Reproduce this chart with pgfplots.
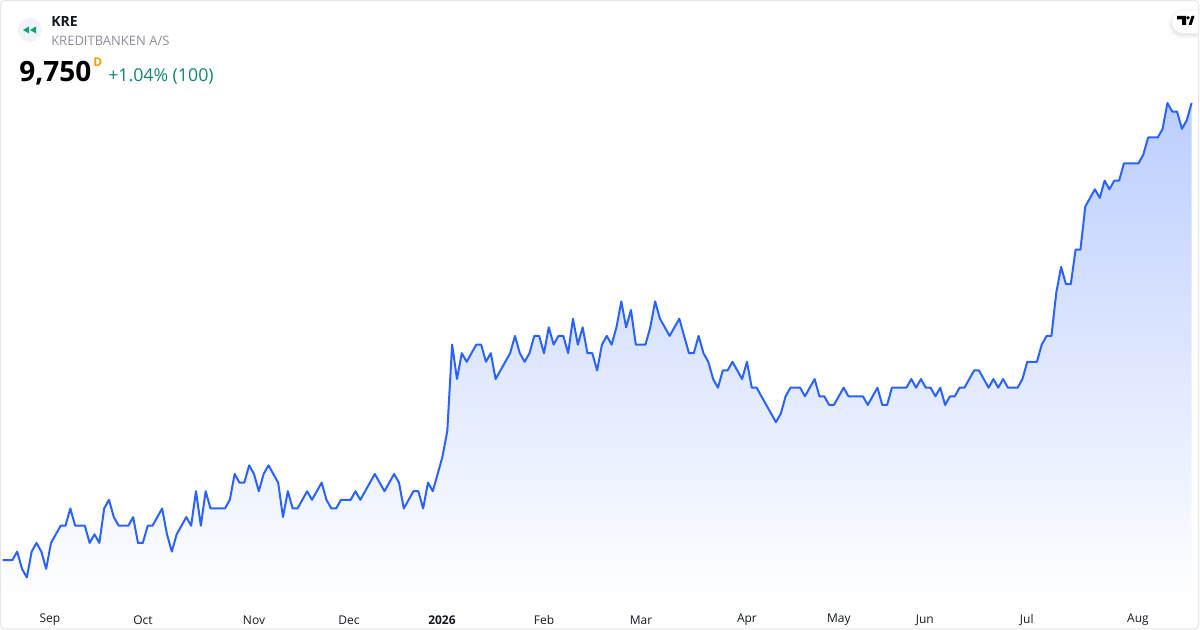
\documentclass[border=0pt]{standalone}
\usepackage{pgfplots}
\usepackage{pgfplotstable}
\usepackage{fontspec}
\pgfplotsset{compat=1.18}
\setmainfont{Open Sans}

\definecolor{linecol}{HTML}{2962FF}
\definecolor{filltop}{RGB}{188,206,255}
\definecolor{cardedge}{HTML}{E6E6E8}
\definecolor{iconbg}{HTML}{F0F3FA}
\definecolor{icongreen}{HTML}{00A86B}
\definecolor{chgcol}{HTML}{108571}
\definecolor{subcol}{HTML}{8A8E99}
\definecolor{tickcol}{HTML}{131722}
\definecolor{dcol}{HTML}{F59F00}

% daily close, one value per trading day
\pgfplotstableread[row sep=\\]{
close\\
7100\\7100\\7100\\7150\\7050\\7000\\7150\\7200\\7150\\7050\\
7200\\7250\\7300\\7300\\7400\\7300\\7300\\7300\\7200\\7250\\
7200\\7400\\7450\\7350\\7300\\7300\\7300\\7350\\7200\\7200\\
7300\\7300\\7350\\7400\\7250\\7150\\7250\\7300\\7350\\7300\\
7500\\7300\\7500\\7400\\7400\\7400\\7400\\7450\\7600\\7550\\
7550\\7650\\7600\\7500\\7600\\7650\\7600\\7550\\7350\\7500\\
7400\\7400\\
7450\\7500\\7450\\7500\\7550\\7450\\7400\\7400\\7450\\7450\\
7450\\7500\\7450\\7500\\7550\\7600\\7550\\7500\\7550\\7600\\
7550\\7400\\7450\\7500\\7500\\7400\\7550\\7500\\7600\\7700\\
7850\\8350\\8150\\8300\\8250\\8300\\8350\\8350\\8250\\8300\\
8150\\8200\\8250\\8300\\8400\\8300\\8250\\8300\\8400\\8400\\
8300\\8450\\8350\\8400\\8400\\8300\\
8500\\8350\\8450\\8300\\8300\\8200\\8350\\8400\\8350\\8450\\
8600\\8450\\8550\\8350\\8350\\8350\\8450\\8600\\8500\\8450\\
8400\\8450\\8500\\8400\\8300\\8300\\8400\\8300\\8250\\8150\\
8100\\8200\\8200\\8250\\8200\\8150\\8250\\8100\\8100\\8050\\
8000\\7950\\7900\\7950\\8050\\8100\\8100\\8100\\8050\\8100\\
8150\\8050\\8050\\8000\\8000\\8050\\8100\\8050\\8050\\8050\\
8050\\8000\\8050\\8100\\8000\\8000\\8100\\8100\\8100\\8100\\
8150\\8100\\8150\\8100\\8100\\8050\\8100\\8000\\8050\\8050\\
8100\\8100\\8150\\8200\\8200\\8150\\8100\\8150\\8100\\8150\\
8100\\8100\\8100\\8150\\8250\\8250\\8250\\8350\\8400\\8400\\
8650\\8800\\8700\\8700\\8900\\8900\\
9150\\9200\\9250\\9200\\9300\\9250\\9300\\9300\\9400\\9400\\
9400\\9400\\9450\\9550\\9550\\9550\\9600\\9750\\9700\\9700\\
9600\\9650\\9750\\
}\pricetable

\begin{document}
\begin{tikzpicture}
\useasboundingbox (0,-22.5pt) rectangle (900pt,450pt);
\begin{axis}[
    at={(0,0)}, anchor=south west,
    scale only axis,
    width=900pt, height=450pt,
    xmin=-0.552, xmax=247.74,
    ymin=6869.5, ymax=10347,
    axis line style={draw=none},
    major tick length=0pt,
    ytick=\empty,
    xtick={9.79,29.03,52.0,71.66,90.9,112.0,132.1,154.0,173.0,190.8,211.9,234.9},
    xticklabels={Sep,Oct,Nov,Dec,\textbf{2026},Feb,Mar,Apr,May,Jun,Jul,Aug},
    xticklabel style={font=\fontsize{9}{11}\selectfont, text=tickcol, anchor=center, yshift=-15pt},
    /pgf/number format/assume math mode=true,
]
\addplot[draw=none, top color=filltop, bottom color=white]
    table[x expr=\coordindex, y index=0] {\pricetable} \closedcycle;
\addplot[color=linecol, line width=1.5pt, line join=round]
    table[x expr=\coordindex, y index=0] {\pricetable};
\end{axis}

% header and card, in reference pixels
\begin{scope}[x=0.75pt, y=-0.75pt, yshift=450pt]
\draw[cardedge, line width=0.75pt, rounded corners=3pt] (0.5,0.5) rectangle (1198.5,629);
\fill[iconbg] (30,30) circle (12);
\fill[icongreen] (23,30) -- (29,26.5) -- (29,33.5) -- cycle;
\fill[icongreen] (30,30) -- (36,26.5) -- (36,33.5) -- cycle;
\node[anchor=base west, inner sep=0pt, font=\fontsize{10.5}{12}\selectfont\bfseries, text=tickcol] at (51,26.5) {KRE};
\node[anchor=base west, inner sep=0pt, font=\fontsize{9.75}{11}\selectfont, text=subcol] at (51,45.7) {KREDITBANKEN A/S};
\node[anchor=base west, inner sep=0pt, font=\fontsize{21}{25}\selectfont\bfseries, text=black] at (19,82) {9,750};
\node[anchor=base west, inner sep=0pt, font=\fontsize{9}{10}\selectfont\bfseries, text=dcol] at (93,66.5) {D};
\node[anchor=base west, inner sep=0pt, font=\fontsize{13.3}{16}\selectfont, text=chgcol] at (108,81.5) {+1.04\% (100)};
% logo button with soft shadow (y runs down here, so the arc runs 270 to 90)
\foreach \rad/\tone in {15/2,14/3,13/5,12/8}{
  \fill[black!\tone] (1198,24-\rad) -- (1183,24-\rad) arc[start angle=270, end angle=90, radius=\rad] -- (1198,24+\rad) -- cycle;
}
\fill[white] (1198,11) -- (1183,11) arc[start angle=270, end angle=90, radius=11] -- (1198,33) -- cycle;
\fill[black] (1177,16) -- (1186,16) -- (1186,25) -- (1182,25) -- (1182,19.5) -- (1177,19.5) -- cycle;
\fill[black] (1188.5,25) -- (1191.5,16) -- (1194.5,16) -- (1191.5,25) -- cycle;
\fill[black] (1188,17.8) circle (1.8);
\end{scope}
\end{tikzpicture}
\end{document}
